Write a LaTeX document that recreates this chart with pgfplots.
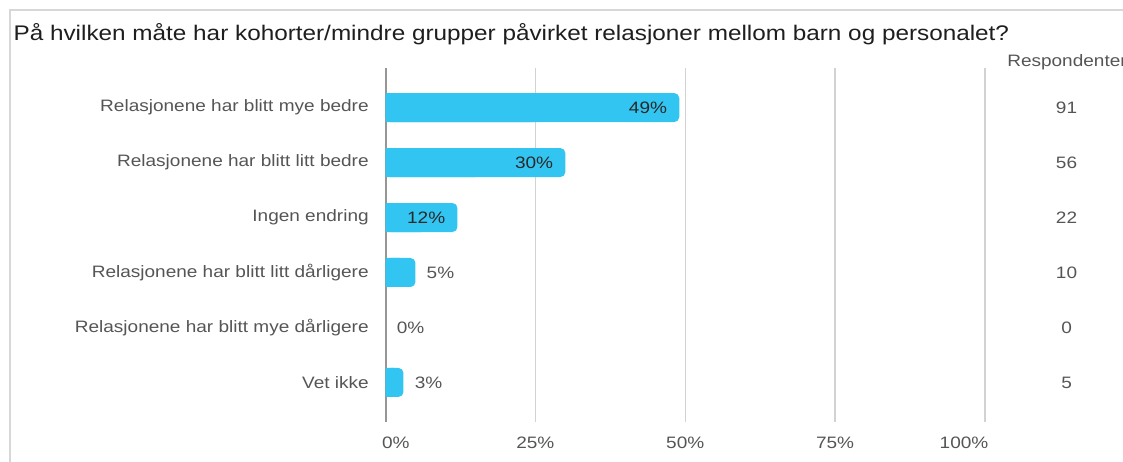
\documentclass[border=0pt]{standalone}
\usepackage{fontspec}
\setmainfont{Liberation Sans}[FakeStretch=1.15]
\usepackage{pgfplots}
\usepackage{pgfplotstable}
\pgfplotsset{compat=1.18}
\pgfkeys{/pgf/number format/assume math mode=true}
\definecolor{barblue}{RGB}{51,197,242}
\definecolor{labgray}{RGB}{85,85,85}
\definecolor{gridgray}{RGB}{210,210,210}
\definecolor{axgray}{RGB}{150,150,150}
\definecolor{framegray}{RGB}{215,215,215}
\definecolor{titlecol}{RGB}{30,30,30}
\definecolor{intext}{RGB}{40,40,40}

\pgfplotstableread{
y pct n
0 49 91
1 30 56
2 12 22
3 5 10
4 0 0
5 3 5
}\data

\begin{document}
\begin{tikzpicture}
\useasboundingbox (0,0) rectangle (842.25pt,345.75pt);
\draw[framegray, line width=1.5pt] (7.5pt,-2pt) -- (7.5pt,338.25pt) -- (846pt,338.25pt);
\node[anchor=base west, inner sep=0pt, text=titlecol, font=\fontsize{15.85}{19}\selectfont] at (10pt,315pt)
  {På hvilken måte har kohorter/mindre grupper påvirket relasjoner mellom barn og personalet?};
\node[anchor=base west, inner sep=0pt, text=labgray, font=\fontsize{12.4}{15}\selectfont] at (755.25pt,295.5pt) {Respondenter};
\begin{axis}[
  at={(289.125pt,29.25pt)}, anchor=south west,
  scale only axis, width=449.625pt, height=265.5pt,
  xmin=0, xmax=100, ymin=-0.72, ymax=5.72, y dir=reverse,
  clip=false,
  axis x line*=bottom, axis y line*=left,
  x axis line style={draw=none},
  y axis line style={draw=axgray, line width=1.5pt},
  xmajorgrids, grid style={draw=gridgray, line width=1.1pt},
  major tick length=0pt,
  xtick={0,25,50,75,100},
  xticklabels={\makebox[0pt][l]{\hspace{-2.5pt}0\%},25\%,50\%,75\%,\makebox[0pt][r]{100\%\hspace{-2.5pt}}},
  xticklabel style={anchor=north, inner sep=0pt, yshift=-11pt, text=labgray, font=\fontsize{12.4}{15}\selectfont},
  ytick={0,1,2,3,4,5},
  yticklabels={Relasjonene har blitt mye bedre, Relasjonene har blitt litt bedre, Ingen endring, Relasjonene har blitt litt dårligere, Relasjonene har blitt mye dårligere, Vet ikke},
  yticklabel style={anchor=east, inner sep=0pt, xshift=-12.4pt, text=labgray, font=\fontsize{12.4}{15}\selectfont},
]
\addplot[xbar, bar width=21.75pt, bar shift=0pt, fill=barblue, draw=none, rounded corners=3.75pt]
  table[x=pct, y=y, skip coords between index={4}{5}] {\data};
\addplot[xbar, bar width=21.75pt, bar shift=0pt, fill=barblue, draw=none]
  table[x expr=\thisrow{pct}/2, y=y, skip coords between index={4}{5}] {\data};
% labels inside bars
\addplot[draw=none, mark=none, point meta=x,
  nodes near coords={\pgfmathprintnumber{\pgfplotspointmeta}\%},
  nodes near coords style={anchor=east, inner sep=0pt, xshift=-9pt, text=intext, font=\fontsize{12.4}{15}\selectfont}]
  table[x=pct, y=y, skip coords between index={3}{6}] {\data};
% labels outside bars
\addplot[draw=none, mark=none, point meta=x,
  nodes near coords={\pgfmathprintnumber{\pgfplotspointmeta}\%},
  nodes near coords style={anchor=west, inner sep=0pt, xshift=8.25pt, text=labgray, font=\fontsize{12.4}{15}\selectfont}]
  table[x=pct, y=y, skip coords between index={0}{3}] {\data};
% respondent counts
\addplot[draw=none, mark=none, point meta=explicit,
  nodes near coords,
  nodes near coords style={anchor=center, inner sep=0pt, text=labgray, font=\fontsize{12.4}{15}\selectfont}]
  table[x expr=113.6, y=y, meta=n] {\data};
\end{axis}
\end{tikzpicture}
\end{document}
